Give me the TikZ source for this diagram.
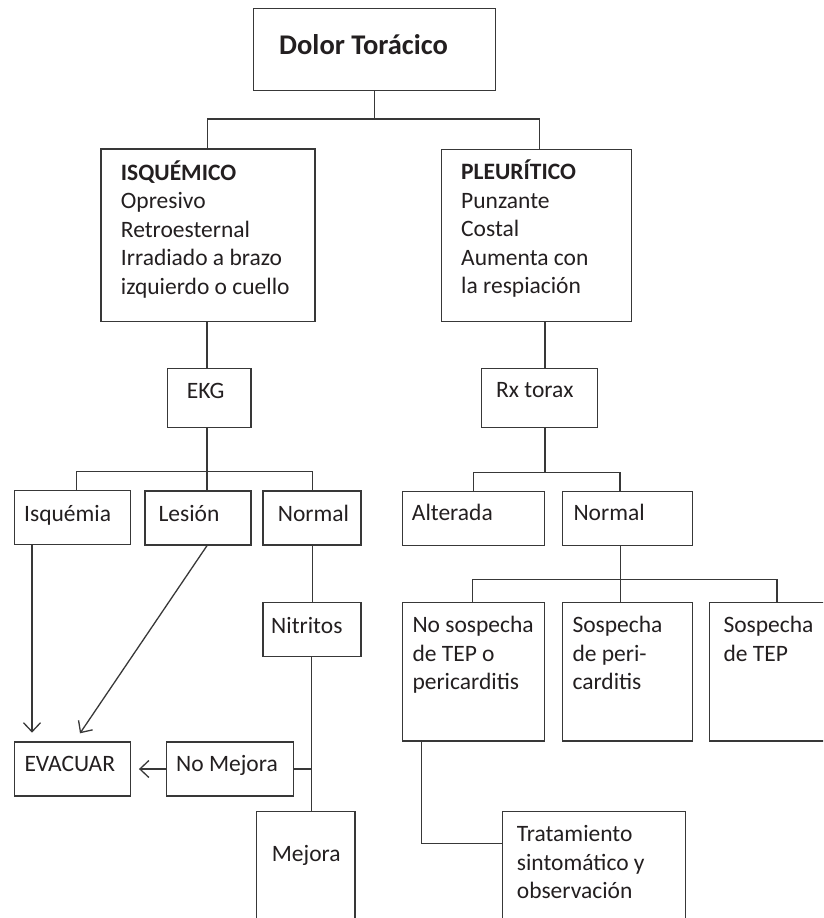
\documentclass[tikz,border=0pt]{standalone}
\usepackage{fontspec}
\setmainfont{Carlito}
\usetikzlibrary{arrows.meta,fit}
\definecolor{ink}{HTML}{231F20}
\definecolor{rulecol}{HTML}{383838}
% multi-line box text, baseline on the first line
\newcommand{\boxlines}[1]{\parbox[t]{230pt}{\raggedright #1}}
\tikzset{
  box/.style={draw=rulecol, line width=1.3pt, rectangle, inner sep=0pt},
  txt/.style={anchor=base west, inner sep=0pt, text=ink,
    font=\fontsize{23.5}{28.6}\selectfont},
  title/.style={anchor=base west, inner sep=0pt, text=ink,
    font=\bfseries\fontsize{28.5}{34}\selectfont},
  link/.style={draw=rulecol, line width=1.3pt},
  arr/.style={link, -{Straight Barb[length=9pt,width=17pt,line width=1.3pt]}}
}
\begin{document}
\begin{tikzpicture}[x=1pt,y=-1pt]
\clip (0,0) rectangle (823,918);

% ---- boxes ----
\node[box, fit={(253.3,8.3)(495.3,90.7)}] (dolor) {};
\node[box, fit={(101,149)(315,321.7)}] (isq) {};
\node[box, fit={(441.7,149.3)(631.3,321.7)}] (pleu) {};
\node[box, fit={(167.3,368.3)(251,427.3)}] (ekg) {};
\node[box, fit={(481.7,368.3)(597.3,427.3)}] (rx) {};
\node[box, fit={(14.3,490.7)(130.3,544.7)}] (isqm) {};
\node[box, fit={(145,491)(251,545)}] (lesion) {};
\node[box, fit={(263,491)(361,545)}] (norm1) {};
\node[box, fit={(402.3,491.7)(544.3,545.7)}] (alter) {};
\node[box, fit={(562.7,491.7)(692.3,545.7)}] (norm2) {};
\node[box, fit={(263,602.7)(361,656.7)}] (nitr) {};
\node[box, fit={(402.7,602.7)(544.3,741)}] (nosos) {};
\node[box, fit={(562.7,602.7)(692.3,741)}] (speri) {};
\node[box, fit={(709.3,602.7)(860,741)}] (stepnode) {};
\node[box, fit={(14.3,742)(130.3,796)}] (evac) {};
\node[box, fit={(166.7,742)(293.3,796)}] (nomej) {};
\node[box, fit={(256.7,811.7)(355,960)}] (mejora) {};
\node[box, fit={(502.3,811.7)(685.7,960)}] (trat) {};

% ---- texts ----
\node[title] (t-dolor) at (279,54) {Dolor Torácico};
\node[txt] (t-isq) at (120.7,180) {\boxlines{\textbf{ISQUÉMICO}\\Opresivo\\Retroesternal\\Irradiado a brazo\\izquierdo o cuello}};
\node[txt] (t-pleu) at (461,179.5) {\boxlines{\textbf{PLEURÍTICO}\\Punzante\\Costal\\Aumenta con\\la respiación}};
\node[txt] (t-ekg) at (186.7,398.3) {EKG};
\node[txt] (t-rx) at (496,397.3) {Rx torax};
\node[txt] (t-isqm) at (24,521.7) {Isquémia};
\node[txt] (t-lesion) at (158.3,521.7) {Lesión};
\node[txt] (t-norm1) at (277.7,521.7) {Normal};
\node[txt] (t-alter) at (411.7,520.5) {Alterada};
\node[txt] (t-norm2) at (573.3,520.5) {Normal};
\node[txt] (t-nitr) at (271,633.3) {Nitritos};
\node[txt] (t-nosos) at (412.3,632.7) {\boxlines{No sospecha\\de TEP o\\pericarditis}};
\node[txt] (t-speri) at (572.3,632.7) {\boxlines{Sospecha\\de peri-\\carditis}};
\node[txt] (t-step) at (723.3,632.7) {\boxlines{Sospecha\\de TEP}};
\node[txt] (t-evac) at (24.3,771.7) {EVACUAR};
\node[txt] (t-nomej) at (176,771.7) {No Mejora};
\node[txt] (t-mejora) at (271.7,861.7) {Mejora};
\node[txt] (t-trat) at (516.7,841.7) {\boxlines{Tratamiento\\sintomático y\\observación}};

% ---- junctions ----
\coordinate (j1) at (374.3,119);
\coordinate (j2) at (207,471.7);
\coordinate (j3) at (545,472.3);
\coordinate (j4) at (620.5,579.3);
\coordinate (lestip) at (80,733.3);

% ---- connectors ----
\draw[link] (dolor.south) -- (j1);
\draw[link] (isq.north -| 207.3,0) |- (j1) -| (pleu.north -| 539.3,0);

\draw[link] (isq.south -| 207,0) -- (ekg.north -| 207,0);
\draw[link] (ekg.south -| 207,0) -- (lesion.north -| 207,0);
\draw[link] (isqm.north -| 76.7,0) |- (j2) -| (norm1.north -| 312.3,0);
\draw[link] (norm1.south -| 312.3,0) -- (nitr.north -| 312.3,0);
\draw[link] (nitr.south -| 311.7,0) -- (mejora.north -| 311.7,0);
\draw[link] (nomej.east) -- (nomej.east -| 311.7,0);

\draw[arr, shorten >=8.7pt] (isqm.south -| 32,0) -- (evac.north -| 32,0);
\draw[arr] (lesion.south -| 207,0) -- (lestip);
\draw[arr, shorten >=8pt] (nomej.west) -- (evac.east);

\draw[link] (pleu.south -| 545,0) -- (rx.north -| 545,0);
\draw[link] (rx.south -| 545,0) -- (j3);
\draw[link] (alter.north -| 473.3,0) |- (j3) -| (norm2.north -| 620,0);
\draw[link] (norm2.south -| 620.5,0) -- (speri.north -| 620.5,0);
\draw[link] (nosos.north -| 472.7,0) |- (j4) -| (stepnode.north -| 777,0);
\draw[link] (nosos.south -| 421.7,0) |- (trat.north west |- 0,843.3);
\end{tikzpicture}
\end{document}
